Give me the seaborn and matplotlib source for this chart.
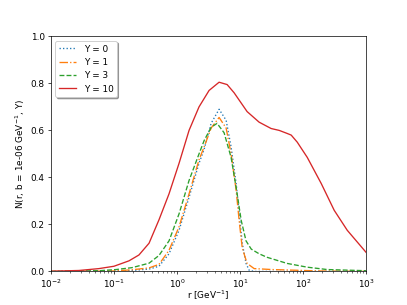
import numpy as np
import pandas as pd
import seaborn as sns
import matplotlib
matplotlib.use('Agg')
import matplotlib.pyplot as plt

# values
r_y0 = [0.01, 0.1, 0.193, 0.36, 0.518, 0.746, 1.076, 1.55, 2.23, 2.69, 3.47, 4.64, 6.0, 7.19, 8.65,
        9.64, 10.8, 12.4, 13.9, 16.7, 1000]
n_y0 = [0.0, 0.001, 0.004, 0.01, 0.022, 0.075, 0.175, 0.315, 0.46, 0.52, 0.63, 0.69, 0.643, 0.53, 0.374,
        0.25, 0.12, 0.034, 0.005, 0.0, 0.0]

r_y1 = [0.01, 0.1, 0.193, 0.36, 0.518, 0.746, 1.076, 1.55, 2.23, 2.69, 3.47, 4.64, 6.0, 7.19, 8.65,
        9.64, 10.8, 12.9, 16.7, 32.2, 77.5, 179, 1000]
n_y1 = [0.0, 0.002, 0.007, 0.015, 0.03, 0.09, 0.19, 0.33, 0.475, 0.53, 0.61, 0.655, 0.61, 0.50, 0.345,
        0.217, 0.10, 0.034, 0.012, 0.008, 0.005, 0.002, 0.0]

r_y3 = [0.01, 0.0578, 0.1076, 0.193, 0.36, 0.518, 0.746, 1.076, 1.55, 2.23, 2.69, 3.47, 4.31, 5.57,
        7.19, 8.65, 10.4, 12.4, 15.0, 20.0, 26.8, 55.7, 116, 240, 1000]
n_y3 = [0.0, 0.003, 0.008, 0.016, 0.035, 0.068, 0.13, 0.245, 0.387, 0.50, 0.557, 0.613, 0.63, 0.59,
        0.485, 0.357, 0.217, 0.13, 0.095, 0.075, 0.06, 0.034, 0.018, 0.008, 0.003]

r_y10 = [0.01, 0.0278, 0.0578, 0.1, 0.173, 0.249, 0.36, 0.518, 0.746, 1.076, 1.55, 2.23, 3.22, 4.64,
         6.22, 8.03, 12.9, 20.0, 31.0, 41.6, 55.7, 64.5, 80.4, 116, 193, 310, 499, 1000]
n_y10 = [0.001, 0.004, 0.012, 0.022, 0.045, 0.07, 0.12, 0.22, 0.33, 0.46, 0.60, 0.70, 0.77, 0.805,
         0.795, 0.76, 0.68, 0.635, 0.608, 0.60, 0.587, 0.58, 0.55, 0.485, 0.374, 0.26, 0.175, 0.08]

series = [
    ('Y = 0', r_y0, n_y0, 'C0', ':'),
    ('Y = 1', r_y1, n_y1, 'C1', '-.'),
    ('Y = 3', r_y3, n_y3, 'C2', '--'),
    ('Y = 10', r_y10, n_y10, 'C3', '-'),
]

fig, ax = plt.subplots(figsize=(6.4, 4.8), dpi=407 / 6.4)

for label, r, n, color, ls in series:
    df = pd.DataFrame({'r': r, 'N': n})
    sns.lineplot(data=df, x='r', y='N', ax=ax, color=color, linestyle=ls, label=label, linewidth=1.5)

ax.set_xscale('log')
ax.set_xlim(1e-2, 1e3)
ax.set_ylim(0, 1)
ax.set_xlabel('r [GeV$^{-1}$]', labelpad=-1.5)
ax.set_ylabel('N(r, b = 1e-06 GeV$^{-1}$, Y)')
ax.legend(loc='upper left', shadow=True)

fig.savefig('out.png', dpi=407 / 6.4)
